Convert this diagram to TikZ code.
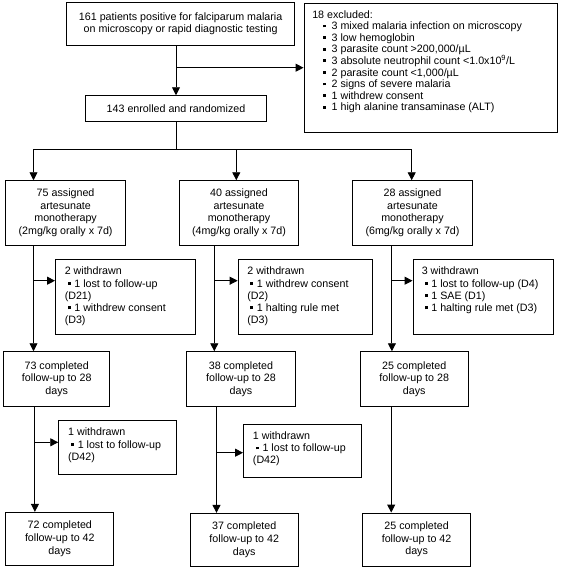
\documentclass[tikz,border=0pt]{standalone}
\usepackage{fontspec}
\setmainfont{Liberation Sans}
\usetikzlibrary{arrows.meta,calc}
\newcommand{\wbul}{\hspace*{3pt}\rule[2.3pt]{2.8pt}{2.8pt}\hspace{3.8pt}}
\newcommand{\ebul}{\hspace*{11pt}\rule[2.3pt]{2.8pt}{2.8pt}\hspace{5.6pt}}
\newcommand{\fstrut}{\rule{0pt}{8.5pt}}
\tikzset{
  bx/.style={draw, line width=0.9pt, inner sep=0pt, align=center, font=\fontsize{10.7}{12.6}\selectfont},
  txt/.style={inner sep=0pt, anchor=north west, align=left},
  arr/.style={line width=0.9pt, -{Triangle[length=8pt,width=8pt]}},
  ln/.style={line width=0.9pt},
}
\begin{document}
\begin{tikzpicture}[x=1pt, y=-1pt, font=\fontsize{10.7}{12.2}\selectfont]
\useasboundingbox (0,0) rectangle (563,570);
% top row
\node[bx, minimum width=228.1pt, minimum height=43pt, font=\fontsize{10.7}{12}\selectfont] (top) at (180.65,24.2)
  {161 patients positive for falciparum malaria\\on microscopy or rapid diagnostic testing};
\node[bx, minimum width=253.6pt, minimum height=129.3pt] (excl) at (430.8,67.65) {};
\node[txt, font=\fontsize{10.7}{11.6}\selectfont] (excltxt) at ($(excl.north west)+(8.5,6.8)$)
  {\fstrut 18 excluded:\\
   \ebul 3 mixed malaria infection on microscopy\\
   \ebul 3 low hemoglobin\\
   \ebul 3 parasite count >200,000/µL\\
   \ebul 3 absolute neutrophil count <1.0x10\textsuperscript{9}/L\\
   \ebul 2 parasite count <1,000/µL\\
   \ebul 2 signs of severe malaria\\
   \ebul 1 withdrew consent\\
   \ebul 1 high alanine transaminase (ALT)};
\node[bx, minimum width=181.2pt, minimum height=26pt] (enr) at (176,108.7) {143 enrolled and randomized};
% arms
\node[bx, minimum width=119.6pt, minimum height=64.3pt] (arm1) at (65.6,212.85)
  {75 assigned\\artesunate\\monotherapy\\(2mg/kg orally x 7d)};
\node[bx, minimum width=119.2pt, minimum height=64.3pt] (arm2) at (239,212.85)
  {40 assigned\\artesunate\\monotherapy\\(4mg/kg orally x 7d)};
\node[bx, minimum width=119.6pt, minimum height=64.3pt] (arm3) at (412.5,212.85)
  {28 assigned\\artesunate\\monotherapy\\(6mg/kg orally x 7d)};
% withdrawn boxes
\node[bx, minimum width=140.3pt, minimum height=74.5pt] (w1) at (125.65,296.95) {};
\node[txt] (w1t) at ($(w1.north west)+(9.5,7)$)
  {\fstrut 2 withdrawn\\ \wbul 1 lost to follow-up\\(D21)\\ \wbul 1 withdrew consent\\(D3)};
\node[bx, minimum width=134.4pt, minimum height=74.5pt] (w2) at (305.3,296.95) {};
\node[txt] (w2t) at ($(w2.north west)+(9.5,7)$)
  {\fstrut 2 withdrawn\\ \wbul 1 withdrew consent\\(D2)\\ \wbul 1 halting rule met\\(D3)};
\node[bx, minimum width=140.7pt, minimum height=74.5pt] (w3) at (483.35,296.95) {};
\node[txt] (w3t) at ($(w3.north west)+(9,7)$)
  {\fstrut 3 withdrawn\\ \wbul 1 lost to follow-up (D4)\\ \wbul 1 SAE (D1)\\ \wbul 1 halting rule met (D3)};
% 28-day boxes
\node[bx, minimum width=106.3pt, minimum height=54.3pt] (b1) at (56.75,378.85)
  {73 completed\\follow-up to 28\\days};
\node[bx, minimum width=108.8pt, minimum height=54.3pt] (b2) at (241,378.85)
  {38 completed\\follow-up to 28\\days};
\node[bx, minimum width=108.1pt, minimum height=54.3pt] (b3) at (414.25,378.85)
  {25 completed\\follow-up to 28\\days};
% 1-withdrawn boxes
\node[bx, minimum width=118.2pt, minimum height=53.3pt] (x1) at (117.8,447.35) {};
\node[txt] (x1t) at ($(x1.north west)+(9.7,7)$)
  {\fstrut 1 withdrawn\\ \wbul 1 lost to follow-up\\(D42)};
\node[bx, minimum width=118.2pt, minimum height=53pt] (x2) at (302.6,450.8) {};
\node[txt] (x2t) at ($(x2.north west)+(9.7,7)$)
  {\fstrut 1 withdrawn\\ \wbul 1 lost to follow-up\\(D42)};
% 42-day boxes
\node[bx, minimum width=108pt, minimum height=52.7pt] (f1) at (59.8,538.65)
  {72 completed\\follow-up to 42\\days};
\node[bx, minimum width=108.1pt, minimum height=52.7pt] (f2) at (244.25,539.65)
  {37 completed\\follow-up to 42\\days};
\node[bx, minimum width=108.4pt, minimum height=53pt] (f3) at (416.6,539.5)
  {25 completed\\follow-up to 42\\days};
% connectors
\draw[arr] (enr.north |- top.south) -- (enr.north);
\coordinate (br) at (176,67.7);
\draw[arr] (br) -- (br -| excl.west);
\coordinate (s1) at (33.5,149);
\coordinate (s2) at (236.3,149);
\coordinate (s3) at (411.7,149);
\draw[ln] (enr.south) -- (enr.south |- s1);
\draw[ln] (s1) -- (s3);
\draw[arr] (s1) -- (s1 |- arm1.north);
\draw[arr] (s2) -- (s2 |- arm2.north);
\draw[arr] (s3) -- (s3 |- arm3.north);
\coordinate (j1) at (33.5,280.7);
\coordinate (j2) at (214.3,280.7);
\coordinate (j3) at (391.9,280.7);
\draw[arr] (arm1.south -| j1) -- (b1.north -| j1);
\draw[arr] (arm2.south -| j2) -- (b2.north -| j2);
\draw[arr] (arm3.south -| j3) -- (b3.north -| j3);
\draw[arr] (j1) -- (j1 -| w1.west);
\draw[arr] (j2) -- (j2 -| w2.west);
\draw[arr] (j3) -- (j3 -| w3.west);
\coordinate (k1) at (34.9,442.3);
\coordinate (k2) at (216.5,452.7);
\coordinate (k3) at (391.2,460);
\draw[arr] (b1.south -| k1) -- (f1.north -| k1);
\draw[arr] (b2.south -| k2) -- (f2.north -| k2);
\draw[arr] (b3.south -| k3) -- (f3.north -| k3);
\draw[arr] (k1) -- (k1 -| x1.west);
\draw[arr] (k2) -- (k2 -| x2.west);
\end{tikzpicture}
\end{document}
